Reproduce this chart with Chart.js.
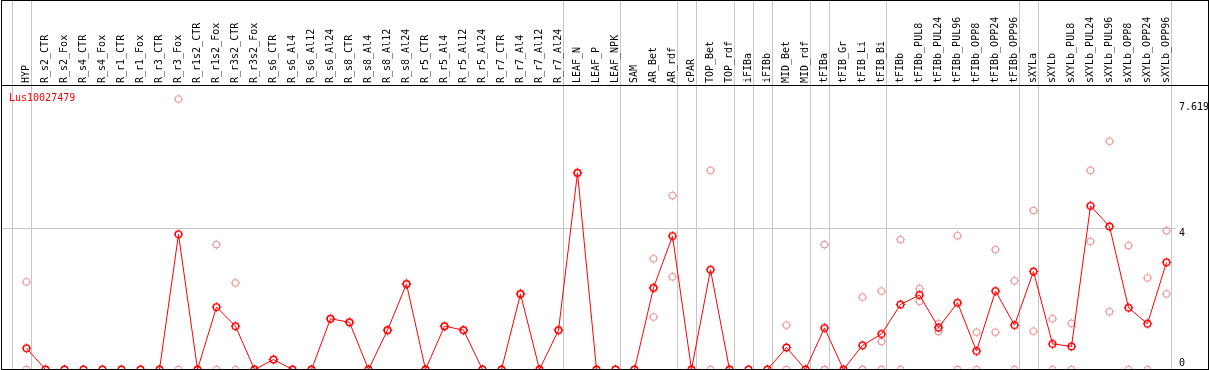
<!DOCTYPE html>
<html>
<head>
<meta charset="utf-8">
<script src="https://cdn.jsdelivr.net/npm/chart.js@4.4.1/dist/chart.umd.min.js"></script>
<style>
    html, body { margin: 0; padding: 0; background: #fff; }
    #wrap { width: 1209px; height: 370px; }
</style>
</head>
<body>
<div id="wrap"><canvas id="chart" width="1209" height="370"></canvas></div>
<script>
// Expression profile of one gene over tissues / treatments

const geneName = 'Lus10027479';

const conditions = [
    'HYP', 'R_s2_CTR', 'R_s2_Fox', 'R_s4_CTR', 'R_s4_Fox', 'R_r1_CTR', 'R_r1_Fox', 'R_r3_CTR', 'R_r3_Fox',
    'R_r1s2_CTR', 'R_r1s2_Fox', 'R_r3s2_CTR', 'R_r3s2_Fox', 'R_s6_CTR', 'R_s6_Al4', 'R_s6_Al12', 'R_s6_Al24',
    'R_s8_CTR', 'R_s8_Al4', 'R_s8_Al12', 'R_s8_Al24', 'R_r5_CTR', 'R_r5_Al4', 'R_r5_Al12', 'R_r5_Al24',
    'R_r7_CTR', 'R_r7_Al4', 'R_r7_Al12', 'R_r7_Al24', 'LEAF_N', 'LEAF_P', 'LEAF_NPK', 'SAM', 'AR_Bet', 'AR_rdf',
    'cPAR', 'TOP_Bet', 'TOP_rdf', 'iFIBa', 'iFIBb', 'MID_Bet', 'MID_rdf', 'tFIBa', 'tFIB_Gr', 'tFIB_Li', 'tFIB_Bi',
    'tFIBb', 'tFIBb_PUL8', 'tFIBb_PUL24', 'tFIBb_PUL96', 'tFIBb_OPP8', 'tFIBb_OPP24', 'tFIBb_OPP96',
    'sXYLa', 'sXYLb', 'sXYLb_PUL8', 'sXYLb_PUL24', 'sXYLb_PUL96', 'sXYLb_OPP8', 'sXYLb_OPP24', 'sXYLb_OPP96'
];

// mean expression (red line)
const meanExpr = [
    0.60, 0, 0, 0, 0, 0, 0, 0, 3.81,
    0, 1.76, 1.22, 0, 0.28, 0, 0, 1.43,
    1.33, 0, 1.11, 2.41, 0, 1.22, 1.11, 0,
    0, 2.13, 0, 1.11, 5.54, 0, 0, 0, 2.30, 3.76,
    0, 2.81, 0, 0, 0, 0.62, 0, 1.17, 0, 0.68, 1.00,
    1.83, 2.10, 1.18, 1.88, 0.52, 2.21, 1.25,
    2.76, 0.72, 0.65, 4.61, 4.03, 1.74, 1.29, 3.02
];

// replicates (pink points)
const repHigh = [
    2.47, 0, 0, 0, 0, 0, 0, 0, 7.619,
    0, 3.52, 2.44, 0, 0.28, 0, 0, 1.43,
    1.33, 0, 1.11, 2.41, 0, 1.22, 1.11, 0,
    0, 2.13, 0, 1.11, 5.54, 0, 0, 0, 3.12, 4.90,
    0, 5.61, 0, 0, 0, 1.25, 0, 3.52, 0, 2.04, 2.21,
    3.66, 2.28, 1.29, 3.77, 1.05, 3.38, 2.50,
    4.48, 1.43, 1.30, 5.61, 6.43, 3.49, 2.58, 3.91
];
const repLow = [
    0, 0, 0, 0, 0, 0, 0, 0, 0,
    0, 0, 0, 0, 0.28, 0, 0, 1.43,
    1.33, 0, 1.11, 2.41, 0, 1.22, 1.11, 0,
    0, 2.13, 0, 1.11, 5.54, 0, 0, 0, 1.48, 2.61,
    0, 0, 0, 0, 0, 0, 0, 0, 0, 0, 0.79,
    0, 1.92, 1.07, 0, 0, 1.05, 0,
    1.08, 0, 0, 3.61, 1.63, 0, 0, 2.13
];
const repThird = [
    null, null, null, null, null, null, null, null, null,
    null, null, null, null, null, null, null, null,
    null, null, null, null, null, null, null, null,
    null, null, null, null, null, null, null, null, 2.30, null,
    null, null, null, null, null, null, null, 0, null, 0, 0,
    null, null, null, null, null, null, null,
    null, null, null, null, null, null, null, null
];

// y tick labels on the right
const yTicks = [0, 4, 7.619];
// grey separator lines come after these column indices (-1 = before the first)
const separatorAfter = [-1, 0, 28, 31, 34, 35, 37, 38, 39, 41, 42, 45, 52, 53, 60];

const MONO = '10px "DejaVu Sans Mono", "Liberation Mono", monospace';
const GREY = '#c6c6c6';

/**
 * Marcador: circulo con pequeñas marcas
 */
function makeMarker(color, lw) {
    const c = document.createElement('canvas');
    c.width = 11;
    c.height = 11;
    const g = c.getContext('2d');
    g.strokeStyle = color;
    g.lineWidth = lw;
    g.beginPath();
    g.arc(5.5, 5.5, 3.3, 0, Math.PI * 2);
    g.stroke();
    g.fillStyle = color;
    g.fillRect(5, 0.8, 1, 1.2);
    g.fillRect(5, 9, 1, 1.2);
    g.fillRect(0.8, 5, 1.2, 1);
    g.fillRect(9, 5, 1.2, 1);
    return c;
}

const redMarker = makeMarker('#ff0000', 1.4);
const pinkMarker = makeMarker('#ec9696', 1.1);

const framePlugin = {
    id: 'frame',
    beforeDatasetsDraw(chart) {
        const ctx = chart.ctx;
        const x = chart.scales.x, y = chart.scales.y;
        const area = chart.chartArea;
        ctx.save();
        ctx.strokeStyle = GREY;
        ctx.lineWidth = 1;
        // separators
        separatorAfter.forEach(i => {
            const px = Math.round(x.getPixelForValue(i) + 4) + 0.5;
            ctx.beginPath();
            ctx.moveTo(px, 0);
            ctx.lineTo(px, chart.height);
            ctx.stroke();
        });
        // horizontal grid at 4
        const gy = Math.round(y.getPixelForValue(4)) + 0.5;
        ctx.beginPath();
        ctx.moveTo(1, gy);
        ctx.lineTo(area.right, gy);
        ctx.stroke();
        ctx.restore();
    },
    afterDraw(chart) {
        const ctx = chart.ctx;
        const x = chart.scales.x, y = chart.scales.y;
        ctx.save();

        // borders
        ctx.strokeStyle = '#000';
        ctx.lineWidth = 1;
        ctx.strokeRect(1.5, 0.5, 1207, 369);
        ctx.beginPath();
        ctx.moveTo(1, 85.5);
        ctx.lineTo(1208, 85.5);
        ctx.stroke();

        // column labels
        ctx.fillStyle = '#000';
        ctx.font = MONO;
        ctx.textAlign = 'left';
        ctx.textBaseline = 'alphabetic';
        conditions.forEach((name, i) => {
            const px = x.getPixelForValue(i);
            ctx.save();
            ctx.translate(px + 2.5, 83);
            ctx.rotate(-Math.PI / 2);
            ctx.fillText(name, 0, 0);
            ctx.restore();
        });

        // y tick labels
        yTicks.forEach(v => {
            const py = y.getPixelForValue(v);
            let by;
            if (v === 0) by = py - 3.5;
            else if (v === yTicks[yTicks.length - 1]) by = py + 11;
            else by = py + 8.5;
            ctx.fillText(String(v), 1179, by);
        });

        // gene name
        ctx.fillStyle = '#ff0000';
        ctx.fillText(geneName, 9, 101);
        ctx.restore();
    }
};

function repDataset(values) {
    return {
        data: values,
        showLine: false,
        pointStyle: pinkMarker,
        pointRadius: 4,
        clip: false,
        order: 1
    };
}

document.addEventListener('DOMContentLoaded', () => {
    const canvas = document.getElementById('chart');
    new Chart(canvas, {
        type: 'line',
        data: {
            labels: conditions,
            datasets: [
                {
                    data: meanExpr,
                    borderColor: '#ff0000',
                    borderWidth: 1,
                    tension: 0,
                    pointStyle: redMarker,
                    pointRadius: 4,
                    clip: false,
                    order: 0
                },
                repDataset(repHigh),
                repDataset(repLow),
                repDataset(repThird)
            ]
        },
        options: {
            responsive: false,
            devicePixelRatio: 1,
            animation: false,
            layout: {
                autoPadding: false,
                padding: { left: 17, right: 33, top: 85.5, bottom: 0.5 }
            },
            plugins: {
                legend: { display: false },
                tooltip: { enabled: false }
            },
            scales: {
                x: { type: 'category', offset: true, display: false },
                y: { min: 0, max: 8, display: false }
            }
        },
        plugins: [framePlugin]
    });
});
</script>
</body>
</html>
